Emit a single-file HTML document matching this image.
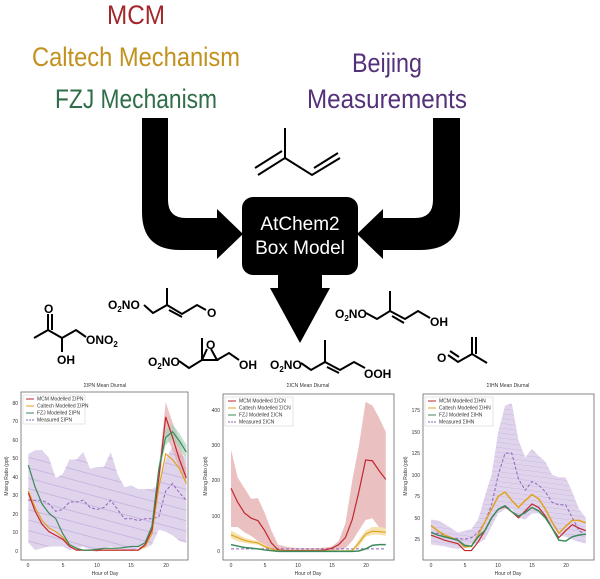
<!DOCTYPE html>
<html><head><meta charset="utf-8"><style>
html,body{margin:0;padding:0;background:#fff}
svg{display:block}
.t{font-family:"Liberation Sans",sans-serif}
.ch{font-family:"Liberation Sans",sans-serif;font-size:12px;font-weight:bold;fill:#000}
.sm{font-family:"Liberation Sans",sans-serif;font-size:5px;fill:#333}
.b{fill:none;stroke:#000;stroke-width:2}
.d{vector-effect:non-scaling-stroke;fill:none}
</style></head><body>
<svg width="600" height="579" viewBox="0 0 600 579" xmlns="http://www.w3.org/2000/svg">
<defs>
<pattern id="h" width="4" height="4" patternUnits="userSpaceOnUse" patternTransform="rotate(45)">
<rect width="4" height="4" fill="#dccfeb"/><line x1="0" y1="0" x2="0" y2="4" stroke="#c3b0dc" stroke-width="0.8"/></pattern>
</defs>
<!-- titles -->
<text class="t" x="136" y="24" font-size="27" fill="#a3282c" text-anchor="middle" textLength="58" lengthAdjust="spacingAndGlyphs">MCM</text>
<text class="t" x="136" y="66" font-size="27" fill="#c3911f" text-anchor="middle" textLength="208" lengthAdjust="spacingAndGlyphs">Caltech Mechanism</text>
<text class="t" x="136" y="108" font-size="27" fill="#2f6e48" text-anchor="middle" textLength="162" lengthAdjust="spacingAndGlyphs">FZJ Mechanism</text>
<text class="t" x="387" y="72" font-size="27" fill="#54317a" text-anchor="middle" textLength="70" lengthAdjust="spacingAndGlyphs">Beijing</text>
<text class="t" x="387" y="108" font-size="27" fill="#54317a" text-anchor="middle" textLength="160" lengthAdjust="spacingAndGlyphs">Measurements</text>
<!-- arrows -->
<path d="M142,118 H168 V200 Q168,218 186,218 H217 V209 L243,234 L217,259 V250 H180 Q142,250 142,212 Z" fill="#000"/>
<path d="M460,118 H433 V200 Q433,218 415,218 H383 V209 L357,234 L383,259 V250 H420 Q460,250 460,212 Z" fill="#000"/>
<rect x="242" y="197" width="116" height="78" rx="11" fill="#000"/>
<path d="M278,274 H322 V288 H330 L300,343 L270,288 H278 Z" fill="#000"/>
<text class="t" x="300" y="230" font-size="19" fill="#fff" text-anchor="middle">AtChem2</text>
<text class="t" x="300" y="254" font-size="19" fill="#fff" text-anchor="middle">Box Model</text>
<!-- isoprene -->
<path class="b" d="M258,175 L285,158 L285,128 M285,158 L312,175 L340,158 M255,168 L282,151 M314,168 L338,153"/>
<!-- molecule 1 -->
<path class="b" d="M34,338 L48,330 L48,314 M52,330 L52,314 M48,330 L62,338 L62,352 M62,338 L76,330 L86,337" stroke-width="1.6"/>
<text class="ch" x="44" y="313">O</text><text class="ch" x="57" y="364">OH</text>
<text class="ch" x="86" y="344">ONO<tspan font-size="8" dy="3">2</tspan></text>
<!-- molecule 2 -->
<text class="ch" x="108" y="309">O<tspan font-size="8" dy="3">2</tspan><tspan dy="-3">NO</tspan></text>
<path class="b" stroke-width="1.6" d="M144,305 L153,313 L167,305 L167,288 M167,305 L182,314 L197,305 L206,310 M169,310 L182,317"/>
<text class="ch" x="207" y="317">O</text>
<!-- molecule 3 -->
<text class="ch" x="148" y="366">O<tspan font-size="8" dy="3">2</tspan><tspan dy="-3">NO</tspan></text>
<path class="b" stroke-width="1.6" d="M179,361 L189,368 L202,360 L202,338 M202,360 L217,360 L211,349 M202,360 L207,349 M217,360 L229,353 L239,360"/>
<text class="ch" x="206" y="349">O</text><text class="ch" x="239" y="369">OH</text>
<!-- molecule 4 -->
<text class="ch" x="270" y="369">O<tspan font-size="8" dy="3">2</tspan><tspan dy="-3">NO</tspan></text>
<path class="b" stroke-width="1.6" d="M301,363 L311,370 L325,362 L325,340 M325,362 L340,370 L354,362 L365,368 M327,367 L339,373"/>
<text class="ch" x="364" y="378">OOH</text>
<!-- molecule 5 -->
<text class="ch" x="335" y="318">O<tspan font-size="8" dy="3">2</tspan><tspan dy="-3">NO</tspan></text>
<path class="b" stroke-width="1.6" d="M366,313 L377,319 L390,311 L390,291 M390,311 L405,319 L418,311 L430,318 M392,316 L404,323"/>
<text class="ch" x="430" y="326">OH</text>
<!-- molecule 6 -->
<text class="ch" x="437" y="362">O</text>
<path class="b" stroke-width="1.6" d="M448,355 L458,362 L472,354 L472,337 M476,354 L476,337 M450,351 L459,357 M472,354 L487,363"/>

<!-- ========== PLOT 1 ========== -->
<text class="sm" x="105" y="387" text-anchor="middle" font-size="5.5">ΣIPN Mean Diurnal</text>
<rect x="21" y="392" width="167" height="168" fill="none" stroke="#555" stroke-width="0.7"/>
<g transform="matrix(6.87 0 0 -1.85 28.3 552)">
<polygon fill="url(#h)" opacity="0.9" points="0,53 1,55 2,55 3,51 4,40 5,42 6,50 7,50 8,54 9,45 10,46 11,46 12,54 13,42 14,35 15,36 16,34 17,34 18,34 19,36 20,50 21,57 22,54 23,50 23,5 22,6 21,9 20,11 19,12 18,4 17,2 16,2 15,1 14,1 13,2 12,3 11,2 10,0 9,1 8,3 7,2 6,1 5,3 4,3 3,3 2,2 1,1 0,5"/>
<polygon fill="#e3a9ab" opacity="0.7" points="19,45 20,81 21,70 22,60 23,45 23,36 22,45 21,55 20,64 19,36"/>
<polygon fill="#a8d3b8" opacity="0.7" points="19,48 20,66 21,69 22,64 23,58 23,50 22,56 21,61 20,58 19,42"/>
<polyline class="d" stroke="#8e63b7" stroke-width="1" stroke-dasharray="3,2" points="0,28 1,28 2,28 3,26 4,22 5,23 6,27 7,27 8,28 9,24 10,23 11,24 12,28 13,23 14,18 15,18 16,17 17,18 18,18 19,19 20,33 21,37 22,32 23,28"/>
<polyline class="d" stroke="#e0a31f" stroke-width="1.2" points="0,33 1,24 2,17 3,13 4,11 5,8 6,4 7,2 8,1 9,1 10,1 11,1 12,1 13,1 14,1 15,1 16,1 17,3 18,10 19,35 20,53 21,50 22,45 23,37"/>
<polyline class="d" stroke="#c1272d" stroke-width="1.2" points="0,32 1,22 2,15 3,11 4,9 5,7 6,3 7,1 8,1 9,1 10,1 11,1 12,1 13,1 14,1 15,1 16,1 17,4 18,12 19,40 20,73 21,62 22,50 23,40"/>
<polyline class="d" stroke="#3c8a5c" stroke-width="1.2" points="0,47 1,35 2,26 3,21 4,18 5,10 6,4 7,2 8,1 9,1 10,1.5 11,2 12,2 13,2 14,2.5 15,3 16,3 17,5 18,14 19,45 20,62 21,65 22,60 23,54"/>
</g>
<g class="sm" text-anchor="end">
<text x="18" y="553">0</text><text x="18" y="534">10</text><text x="18" y="516">20</text><text x="18" y="497">30</text><text x="18" y="479">40</text><text x="18" y="460">50</text><text x="18" y="442">60</text><text x="18" y="423">70</text><text x="18" y="405">80</text></g>
<g class="sm" text-anchor="middle"><text x="28" y="567">0</text><text x="63" y="567">5</text><text x="97" y="567">10</text><text x="131" y="567">15</text><text x="166" y="567">20</text><text x="105" y="575">Hour of Day</text></g>
<text class="sm" transform="translate(8,476) rotate(-90)" text-anchor="middle">Mixing Ratio (ppt)</text>
<rect x="23" y="395" width="62" height="29" fill="#fff" stroke="#ccc" stroke-width="0.5"/>
<g class="sm" font-size="4.5">
<line x1="26" y1="399" x2="34" y2="399" stroke="#c1272d"/><text x="37" y="400.5">MCM Modelled ΣIPN</text>
<line x1="26" y1="406" x2="34" y2="406" stroke="#e0a31f"/><text x="37" y="407.5">Caltech Modelled ΣIPN</text>
<line x1="26" y1="413" x2="34" y2="413" stroke="#3c8a5c"/><text x="37" y="414.5">FZJ Modelled ΣIPN</text>
<line x1="26" y1="420" x2="34" y2="420" stroke="#8e63b7" stroke-dasharray="2,1"/><text x="37" y="421.5">Measured ΣIPN</text></g>

<!-- ========== PLOT 2 ========== -->
<text class="sm" x="308" y="387" text-anchor="middle" font-size="5.5">ΣICN Mean Diurnal</text>
<rect x="223" y="394" width="171" height="166" fill="none" stroke="#555" stroke-width="0.7"/>
<g transform="matrix(6.73 0 0 -0.3525 231 551.7)">
<polygon fill="#e3abab" opacity="0.75" points="0,290 1,210 2,180 3,150 4,152 5,110 6,60 7,20 8,15 9,12 10,10 11,10 12,10 13,10 14,12 15,15 16,30 17,80 18,200 19,300 20,425 21,415 22,380 23,340 23,65 22,70 21,95 20,90 19,60 18,30 17,10 16,5 15,2 14,1 13,1 12,1 11,1 10,1 9,1 8,1 7,2 6,8 5,20 4,30 3,45 2,55 1,70 0,70"/>
<polygon fill="#f1dc9d" opacity="0.8" points="0,60 1,50 2,40 3,34 4,30 5,20 6,10 7,4 8,3 18,4 19,35 20,60 21,70 22,70 23,68 23,45 22,48 21,48 20,42 19,15 18,1 8,0 7,1 6,5 5,10 4,20 3,22 2,25 1,30 0,38"/>
<polyline class="d" stroke="#8e63b7" stroke-width="1" stroke-dasharray="3,2" points="0,8 23,8"/>
<polyline class="d" stroke="#c1272d" stroke-width="1.2" points="0,180 1,140 2,110 3,95 4,88 5,60 6,25 7,5 8,3 9,3 10,3 11,3 12,3 13,3 14,5 15,10 16,20 17,40 18,90 19,170 20,260 21,258 22,230 23,205"/>
<polyline class="d" stroke="#e0a31f" stroke-width="1.2" points="0,48 1,40 2,32 3,28 4,25 5,15 6,8 7,3 8,2 17,2 18,3 19,25 20,50 21,58 22,57 23,55"/>
<polyline class="d" stroke="#3c8a5c" stroke-width="1.5" points="0,20 1,16 2,12 3,10 4,8 5,5 6,3 7,1 18,1 19,2 20,8 21,18 22,20 23,20"/>
</g>
<g class="sm" text-anchor="end">
<text x="220" y="553">0</text><text x="220" y="518">100</text><text x="220" y="482">200</text><text x="220" y="447">300</text><text x="220" y="412">400</text></g>
<g class="sm" text-anchor="middle"><text x="231" y="567">0</text><text x="265" y="567">5</text><text x="298" y="567">10</text><text x="332" y="567">15</text><text x="366" y="567">20</text><text x="308" y="575">Hour of Day</text></g>
<text class="sm" transform="translate(207,476) rotate(-90)" text-anchor="middle">Mixing Ratio (ppt)</text>
<rect x="225" y="397" width="68" height="29" fill="#fff" stroke="#ccc" stroke-width="0.5"/>
<g class="sm" font-size="4.5">
<line x1="228" y1="401" x2="236" y2="401" stroke="#c1272d"/><text x="239" y="402.5">MCM Modelled ΣICN</text>
<line x1="228" y1="408" x2="236" y2="408" stroke="#e0a31f"/><text x="239" y="409.5">Caltech Modelled ΣICN</text>
<line x1="228" y1="415" x2="236" y2="415" stroke="#3c8a5c"/><text x="239" y="416.5">FZJ Modelled ΣICN</text>
<line x1="228" y1="422" x2="236" y2="422" stroke="#8e63b7" stroke-dasharray="2,1"/><text x="239" y="423.5">Measured ΣICN</text></g>

<!-- ========== PLOT 3 ========== -->
<text class="sm" x="508" y="387" text-anchor="middle" font-size="5.5">ΣIHN Mean Diurnal</text>
<rect x="423" y="394" width="171" height="166" fill="none" stroke="#555" stroke-width="0.7"/>
<g transform="matrix(6.73 0 0 -0.862 431 560.9)">
<polygon fill="url(#h)" opacity="0.9" points="0,48 1,47 2,43 3,38 4,33 5,35 6,37 7,48 8,75 9,100 10,150 11,180 12,183 13,140 14,120 15,130 16,122 17,115 18,100 19,97 20,97 21,80 22,60 23,50 23,20 22,22 21,25 20,28 19,30 18,40 17,50 16,55 15,55 14,48 13,50 12,60 11,60 10,55 9,40 8,25 7,20 6,20 5,16 4,14 3,15 2,17 1,18 0,19"/>
<polyline class="d" stroke="#8e63b7" stroke-width="1" stroke-dasharray="3,2" points="0,33 1,32 2,30 3,27 4,26 5,25 6,27 7,33 8,45 9,65 10,100 11,125 12,125 13,95 14,82 15,92 16,88 17,80 18,68 19,65 20,65 21,50 22,35 23,30"/>
<polyline class="d" stroke="#e0a31f" stroke-width="1.5" points="0,41 1,35 2,30 3,27 4,24 5,16 6,17 7,30 8,45 9,60 10,75 11,80 12,70 13,62 14,70 15,77 16,72 17,60 18,45 19,32 20,40 21,47 22,47 23,44"/>
<polyline class="d" stroke="#c1272d" stroke-width="1.2" points="0,30 1,27 2,24 3,22 4,20 5,12 6,12 7,22 8,35 9,50 10,60 11,63 12,57 13,50 14,58 15,66 16,62 17,52 18,38 19,27 20,35 21,42 22,38 23,35"/>
<polyline class="d" stroke="#3c8a5c" stroke-width="1.5" points="0,33 1,30 2,28 3,26 4,24 5,18 6,17 7,28 8,35 9,50 10,60 11,64 12,57 13,52 14,56 15,62 16,58 17,50 18,38 19,24 20,23 21,28 22,30 23,31"/>
</g>
<g class="sm" text-anchor="end">
<text x="420" y="541">25</text><text x="420" y="520">50</text><text x="420" y="498">75</text><text x="420" y="477">100</text><text x="420" y="455">125</text><text x="420" y="434">150</text><text x="420" y="412">175</text></g>
<g class="sm" text-anchor="middle"><text x="431" y="567">0</text><text x="465" y="567">5</text><text x="498" y="567">10</text><text x="532" y="567">15</text><text x="566" y="567">20</text><text x="508" y="575">Hour of Day</text></g>
<text class="sm" transform="translate(407,476) rotate(-90)" text-anchor="middle">Mixing Ratio (ppt)</text>
<rect x="425" y="397" width="68" height="29" fill="#fff" stroke="#ccc" stroke-width="0.5"/>
<g class="sm" font-size="4.5">
<line x1="428" y1="401" x2="436" y2="401" stroke="#c1272d"/><text x="439" y="402.5">MCM Modelled ΣIHN</text>
<line x1="428" y1="408" x2="436" y2="408" stroke="#e0a31f"/><text x="439" y="409.5">Caltech Modelled ΣIHN</text>
<line x1="428" y1="415" x2="436" y2="415" stroke="#3c8a5c"/><text x="439" y="416.5">FZJ Modelled ΣIHN</text>
<line x1="428" y1="422" x2="436" y2="422" stroke="#8e63b7" stroke-dasharray="2,1"/><text x="439" y="423.5">Measured ΣIHN</text></g>
</svg>
</body></html>
